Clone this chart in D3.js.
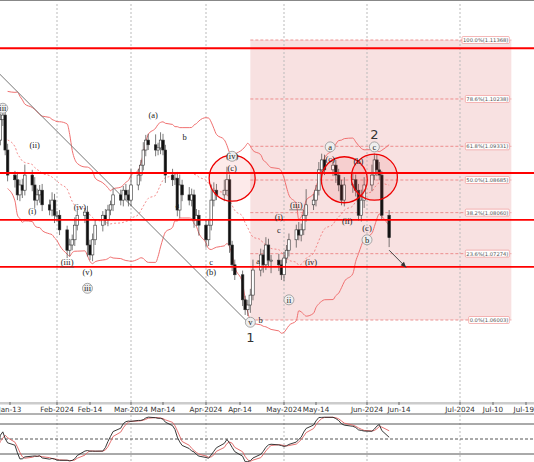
<!DOCTYPE html>
<html><head><meta charset="utf-8">
<script src="https://cdn.jsdelivr.net/npm/d3@7"></script>
<style>body{margin:0;background:#fff}svg{display:block;font-family:"Liberation Serif",serif}</style>
</head><body><svg id="c" width="534" height="462"></svg>
<script>
// ---- data ----
const startDate = "2024-01-08";
const closes = [
 1.0945,1.0984,1.0993,1.0926,1.0878, 1.0869,1.0840,1.0859,1.0849,1.0878, 1.0859,1.0830,1.0840,1.0849,1.0821, 1.0811,1.0830,1.0801,
 1.0801,1.0773,1.0734,1.0744,1.0754,1.0782,1.0801,1.0807,1.0744,1.0725,1.0754,1.0782,1.0801,1.0792,1.0811,1.0821,1.0840,1.0830,1.0849,1.0840,1.0830,
 1.0859,1.0878,1.0897,1.0926,1.0945,1.0936,1.0926,1.0930,1.0945,1.0926,1.0878,1.0869,1.0872,1.0811,1.0859,1.0840,1.0830,1.0840,1.0792,1.0801,1.0782,
 1.0754,1.0782,1.0830,1.0849,1.0840,1.0849,1.0869,1.0744,1.0706,1.0687,1.0639,1.0620,1.0629,1.0648,1.0696,1.0725,1.0706,1.0744,1.0715,1.0715,1.0706,1.0687,
 1.0719,1.0734,1.0754,1.0773,1.0763,1.0773,1.0801,1.0821,1.0830,1.0849,1.0888,1.0907,1.0888,1.0897,1.0878,1.0859,1.0830,1.0859,1.0869,1.0849,1.0801,1.0830,1.0859,
 1.0878,1.0907,1.0888,1.0878,1.0801,1.0758
];
const upWick = [
 .0020,.0012,.0018,.0010,.0012, .0008,.0015,.0010,.0012,.0020, .0010,.0015,.0012,.0010,.0012, .0010,.0015,.0012,
 .0008,.0010,.0008,.0012,.0010,.0015,.0010,.0008,.0012,.0010,.0012,.0010,.0008,.0012,.0010,.0008,.0012,.0010,.0008,.0012,.0010,
 .0030,.0012,.0010,.0015,.0010,.0012,.0020,.0010,.0015,.0012,.0010,.0012,.0010,.0012,.0020,.0010,.0015,.0012,.0010,.0012,.0010,
 .0010,.0012,.0030,.0015,.0012,.0020,.0025,.0010,.0008,.0010,.0008,.0008,.0010,.0012,.0020,.0012,.0010,.0015,.0012,.0010,.0012,.0010,
 .0012,.0010,.0012,.0010,.0015,.0012,.0010,.0030,.0012,.0010,.0015,.0012,.0010,.0012,.0010,.0012,.0010,.0015,.0012,.0010,.0012,.0020,.0015,
 .0020,.0012,.0010,.0015,.0008,.0010
];
const downWick = [
 .0015,.0010,.0012,.0010,.0012, .0015,.0010,.0012,.0015,.0010, .0012,.0015,.0010,.0015,.0012, .0010,.0012,.0015,
 .0012,.0010,.0015,.0012,.0010,.0012,.0010,.0015,.0022,.0010,.0012,.0010,.0012,.0010,.0012,.0010,.0012,.0010,.0012,.0010,.0012,
 .0012,.0010,.0012,.0010,.0012,.0010,.0012,.0010,.0012,.0010,.0015,.0012,.0010,.0012,.0015,.0012,.0010,.0012,.0015,.0012,.0020,
 .0015,.0012,.0010,.0012,.0010,.0012,.0010,.0015,.0012,.0010,.0012,.0010,.0012,.0015,.0010,.0012,.0015,.0010,.0012,.0025,.0012,.0010,
 .0012,.0010,.0012,.0015,.0010,.0012,.0010,.0012,.0010,.0012,.0010,.0012,.0010,.0012,.0015,.0012,.0010,.0012,.0015,.0012,.0010,.0012,.0015,
 .0012,.0010,.0012,.0010,.0008,.0018
];
const tickDates = ["2024-01-13","2024-02-01","2024-02-14","2024-03-01","2024-03-14","2024-04-01","2024-04-14","2024-05-01","2024-05-14","2024-06-01","2024-06-14","2024-07-01","2024-07-10","2024-07-19"];
const tickLabels = ["Jan-13","Feb-2024","Feb-14","Mar-2024","Mar-14","Apr-2024","Apr-14","May-2024","May-14","Jun-2024","Jun-14","Jul-2024","Jul-10","Jul-19"];
const monthTicks = ["2024-02-01","2024-03-01","2024-04-01","2024-05-01","2024-06-01","2024-07-01"];
const levels = [1.1121, 1.0882, 1.0792, 1.0702];
const fibPct = ["100.0%","78.6%","61.8%","50.0%","38.2%","23.6%","0.0%"];
const fibVal = [1.11368,1.10238,1.09331,1.08685,1.08060,1.07274,1.06003];
const fibStart = "2024-04-18", fibEnd = "2024-07-15";
const trend = [["2024-01-01",1.1107],["2024-04-17",1.0596]];
const circles = [["2024-04-11",1.0872],["2024-05-24",1.0869],["2024-06-04",1.0874]];
const waveLabels = [
 ["2024-01-10",1.1006,"iii","c"],["2024-01-23",1.0936,"(ii)",""],["2024-01-22",1.0809,"(i)",""],
 ["2024-02-05",1.0711,"(iii)","b"],["2024-02-10",1.0817,"(iv)",""],["2024-02-13",1.0692,"(v)",""],["2024-02-13",1.0661,"iii","c"],
 ["2024-03-10",1.0993,"(a)",""],["2024-03-23",1.0950,"b",""],["2024-03-20",1.0821,"a",""],
 ["2024-04-11",1.0914,"(iv)","c"],["2024-04-11",1.0891,"(c)",""],["2024-04-03",1.0711,"c",""],["2024-04-03",1.0692,"(b)",""],
 ["2024-04-18",1.0596,"v","c"],["2024-04-21",1.0714,"a",""],["2024-04-22",1.0600,"b",""],
 ["2024-04-29",1.0772,"c",""],["2024-04-29",1.0798,"(i)",""],["2024-05-03",1.0639,"ii","c"],["2024-05-06",1.0821,"(iii)","b"],
 ["2024-05-12",1.0711,"(iv)",""],["2024-05-19",1.0932,"a","c"],["2024-05-19",1.0909,"(c)",""],["2024-05-25",1.0790,"(ii)",""],
 ["2024-05-29",1.0905,"(b)",""],["2024-06-01",1.0777,"(c)",""],["2024-06-01",1.0754,"b","c"],["2024-06-04",1.0932,"c","c"]
];
const bigLabels = [["2024-04-18",1.0567,"1"],["2024-06-04",1.0957,"2"]];
const arrowPts = [["2024-06-10",1.0734],["2024-06-16",1.0701]];

// ---- scales ----
const P = d3.timeParse("%Y-%m-%d");
const x = d3.scaleTime()
  .domain(["2024-01-08",...tickDates].map(P))
  .range([-2,10,57,90,131,163,206,240,284,316,367,399,460,493,526]);
const y = d3.scaleLinear().domain([1.06003,1.11368]).range([320,40]);
const ys = d3.scaleLinear().domain([0,100]).range([464,414]);

const dates=[]; {let d=P(startDate); while(dates.length<closes.length){const w=d.getDay(); if(w>0&&w<6) dates.push(new Date(d)); d=d3.timeDay.offset(d,1);}}
const data = closes.map((c,i)=>{const o=i?closes[i-1]:c+0.0010; return {d:dates[i],o,c,h:Math.max(o,c)+upWick[i],l:Math.min(o,c)-downWick[i]};});

const svg=d3.select("#c");
const main=svg.append("g");
main.append("defs").append("clipPath").attr("id","cm").append("rect").attr("x",0).attr("y",2).attr("width",534).attr("height",400);
const g=main.append("g").attr("clip-path","url(#cm)");
const fx0=x(P(fibStart)), fx1=x(P(fibEnd));
g.append("rect").attr("x",fx0).attr("y",y(fibVal[0])).attr("width",fx1-fx0).attr("height",y(fibVal[6])-y(fibVal[0])).attr("fill","#f7dcdc").attr("opacity",0.85);
g.selectAll(".vg").data(monthTicks).join("line").attr("x1",d=>x(P(d))).attr("x2",d=>x(P(d))).attr("y1",0).attr("y2",402).attr("stroke","#bbb").attr("stroke-dasharray","2,2");
svg.append("line").attr("x1",0).attr("x2",534).attr("y1",0.5).attr("y2",0.5).attr("stroke","#888");
g.selectAll(".fl").data(fibVal).join("line").attr("x1",fx0).attr("x2",fx1).attr("y1",d=>y(d)).attr("y2",d=>y(d)).attr("stroke","#e87a7a").attr("stroke-width",0.8).attr("stroke-dasharray","3,2");
const N=20, bb=data.map((d,i)=>{if(i<4)return null;const s=closes.slice(Math.max(0,i-N+1),i+1);const m=d3.mean(s),sd=d3.deviation(s);return {d:d.d,m,u:m+2*sd,l:m-2*sd};}).filter(Boolean);
const ln=(f)=>d3.line().x(d=>x(d.d)).y(d=>y(f(d))).curve(d3.curveMonotoneX);
g.append("path").attr("d",ln(d=>d.u)(bb)).attr("fill","none").attr("stroke","#f07070").attr("stroke-width",1);
g.append("path").attr("d",ln(d=>d.l)(bb)).attr("fill","none").attr("stroke","#f07070").attr("stroke-width",1);
g.append("path").attr("d",ln(d=>d.m)(bb)).attr("fill","none").attr("stroke","#f07070").attr("stroke-width",0.8).attr("stroke-dasharray","2,2");
g.append("line").attr("x1",x(P(trend[0][0]))).attr("y1",y(trend[0][1])).attr("x2",x(P(trend[1][0]))).attr("y2",y(trend[1][1])).attr("stroke","#777").attr("stroke-width",1);
const cw=2.6;
g.selectAll(".wk").data(data).join("line").attr("x1",d=>x(d.d)).attr("x2",d=>x(d.d)).attr("y1",d=>y(d.h)).attr("y2",d=>y(d.l)).attr("stroke","#444").attr("stroke-width",0.7);
g.selectAll(".bd").data(data).join("rect").attr("x",d=>x(d.d)-cw/2).attr("width",cw)
 .attr("y",d=>y(Math.max(d.o,d.c))).attr("height",d=>Math.max(1,Math.abs(y(d.o)-y(d.c))))
 .attr("fill",d=>d.c>=d.o?"#fff":"#111").attr("stroke","#333").attr("stroke-width",0.6);
g.selectAll(".lv").data(levels).join("line").attr("x1",0).attr("x2",534).attr("y1",d=>y(d)).attr("y2",d=>y(d)).attr("stroke","#f00").attr("stroke-width",1.8);
g.selectAll(".ci").data(circles).join("circle").attr("cx",d=>x(P(d[0]))).attr("cy",d=>y(d[1])).attr("r",23).attr("fill","rgba(240,80,80,0.12)").attr("stroke","#e00").attr("stroke-width",1.3);
fibVal.forEach((v,i)=>{const t=fibPct[i]+"("+v.toFixed(5)+")";
 const tx=g.append("text").attr("x",fx1-3).attr("y",y(v)+2).attr("text-anchor","end").attr("font-size",5.2).attr("font-family","DejaVu Sans").attr("fill","#555").text(t);
 const b=tx.node().getBBox(); g.insert("rect","text").attr("x",b.x-1).attr("y",b.y-0.5).attr("width",b.width+2).attr("height",b.height+1).attr("fill","#fff").attr("stroke","#e88").attr("stroke-width",0.6).attr("rx",1);});
waveLabels.forEach(([d,v,t,s])=>{const cx=x(P(d)),cy=y(v);
 if(s==="c") g.append("circle").attr("cx",cx).attr("cy",cy).attr("r",5).attr("fill","#eee").attr("stroke","#888").attr("stroke-width",0.7);
 g.append("text").attr("x",cx).attr("y",cy+3).attr("text-anchor","middle").attr("font-size",8.5).attr("fill","#222").text(t);
 if(s==="b") g.append("line").attr("x1",cx-7).attr("x2",cx+7).attr("y1",cy+5).attr("y2",cy+5).attr("stroke","#555").attr("stroke-width",0.7);});
bigLabels.forEach(([d,v,t])=>g.append("text").attr("x",x(P(d))).attr("y",y(v)+5).attr("text-anchor","middle").attr("font-size",13).attr("font-family","DejaVu Sans").attr("fill","#333").text(t));
const ax0=x(P(arrowPts[0][0])),ay0=y(arrowPts[0][1]),ax1=x(P(arrowPts[1][0])),ay1=y(arrowPts[1][1]);
g.append("line").attr("x1",ax0).attr("y1",ay0).attr("x2",ax1).attr("y2",ay1).attr("stroke","#444").attr("stroke-width",1);
const ang=Math.atan2(ay1-ay0,ax1-ax0);
g.append("path").attr("d",`M${ax1},${ay1}L${ax1-6*Math.cos(ang-0.4)},${ay1-6*Math.sin(ang-0.4)}L${ax1-6*Math.cos(ang+0.4)},${ay1-6*Math.sin(ang+0.4)}Z`).attr("fill","#333");

svg.append("rect").attr("x",0).attr("y",402).attr("width",534).attr("height",2.5).attr("fill","#ccc");
svg.append("line").attr("x1",0).attr("x2",534).attr("y1",414).attr("y2",414).attr("stroke","#666");
tickDates.forEach((d,i)=>{const tx=x(P(d));
 svg.append("line").attr("x1",tx).attr("x2",tx).attr("y1",402).attr("y2",405).attr("stroke","#666");
 svg.append("text").attr("x",tx).attr("y",412).attr("text-anchor",i===tickDates.length-1?"end":"middle").attr("dx",i===tickDates.length-1?8:0).attr("font-size",7.2).attr("font-family","DejaVu Sans").attr("fill","#333").text(tickLabels[i]);});

const sp=svg.append("g");
monthTicks.forEach(d=>sp.append("line").attr("x1",x(P(d))).attr("x2",x(P(d))).attr("y1",415).attr("y2",462).attr("stroke","#bbb").attr("stroke-dasharray","2,2"));
[[80,""],[50,"3,2"],[20,""]].forEach(([v,da])=>sp.append("line").attr("x1",0).attr("x2",534).attr("y1",ys(v)).attr("y2",ys(v)).attr("stroke","#555").attr("stroke-dasharray",da));
const K=21, raw=data.map((d,i)=>{const w=data.slice(Math.max(0,i-K+1),i+1);const hh=d3.max(w,e=>e.h),ll=d3.min(w,e=>e.l);return 100*(d.c-ll)/(hh-ll||1);});
const sm=(a,n)=>a.map((_,i)=>d3.mean(a.slice(Math.max(0,i-n+1),i+1)));
const kS=sm(raw,5), dS=sm(kS,3);
const sl=d3.line().x((d,i)=>x(data[i].d)).y(d=>ys(d));
sp.append("path").attr("d",sl(dS)).attr("fill","none").attr("stroke","#e06060").attr("stroke-width",0.9);
sp.append("path").attr("d",sl(kS)).attr("fill","none").attr("stroke","#222").attr("stroke-width",0.9);
</script></body></html>
